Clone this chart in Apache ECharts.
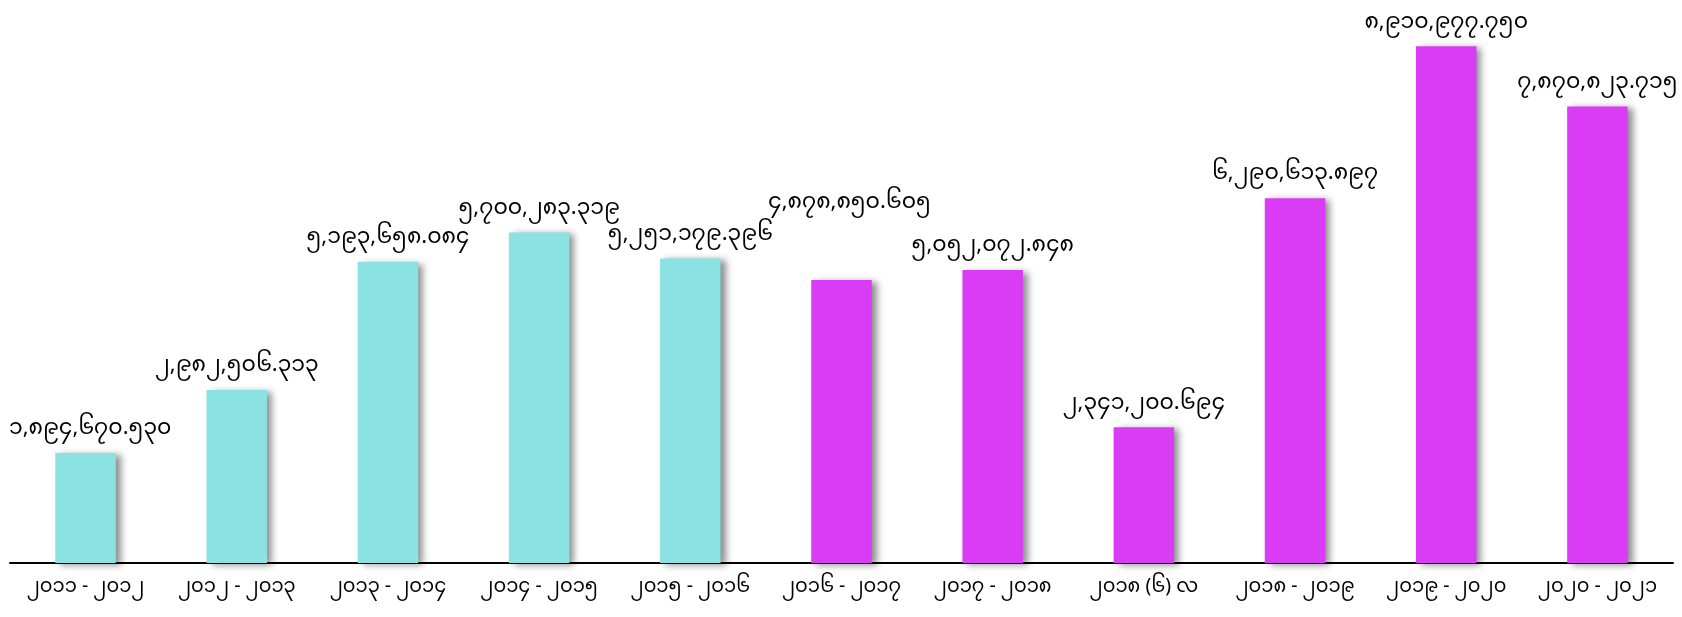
<!DOCTYPE html>
<html>
<head>
<meta charset="utf-8">
<script src="https://cdn.jsdelivr.net/npm/echarts@6/dist/echarts.min.js"></script>
<style>
html,body{margin:0;padding:0;background:#fff;}
#chart{width:1682px;height:617px;}
</style>
</head>
<body>
<div id="chart"></div>
<script>
const categories = ["၂၀၁၁ - ၂၀၁၂","၂၀၁၂ - ၂၀၁၃","၂၀၁၃ - ၂၀၁၄","၂၀၁၄ - ၂၀၁၅","၂၀၁၅ - ၂၀၁၆","၂၀၁၆ - ၂၀၁၇","၂၀၁၇ - ၂၀၁၈","၂၀၁၈ (၆) လ","၂၀၁၈ - ၂၀၁၉","၂၀၁၉ - ၂၀၂၀","၂၀၂၀ - ၂၀၂၁"];
const values = [1894670.530, 2982506.313, 5193658.084, 5700283.319, 5251179.396, 4878850.605, 5052072.848, 2341200.694, 6290613.897, 8910977.750, 7870823.715];
const colorGroups = ["cyan","cyan","cyan","cyan","cyan","magenta","magenta","magenta","magenta","magenta","magenta"];
const palette = {cyan: "#8ae2e3", magenta: "#da3cf5"};

const mmDigits = "၀၁၂၃၄၅၆၇၈၉";
function toMyanmar(v){
  const s = v.toLocaleString("en-US",{minimumFractionDigits:3, maximumFractionDigits:3});
  return s.replace(/[0-9]/g, d => mmDigits[+d]);
}
const FONT = '"Noto Sans Myanmar","Padauk","Myanmar Text","Noto Sans",sans-serif';
const GRID_LEFT = 10;
const LABEL_SIZE = 22;
const OVERLAP_TOLERANCE = 8;

let placed = [];
function avoidOverlap(params){
  const r = params.labelRect;
  if (params.dataIndex === 0) placed = [];
  let dx = Math.max(0, GRID_LEFT - 1 - r.x);
  let dy = 0;
  const prev = placed[placed.length - 1];
  if (prev) {
    const x = r.x + dx;
    const overlap = Math.min(prev.x + prev.width, x + r.width) - Math.max(prev.x, x);
    const overlapY = r.y < prev.y + prev.height && r.y + r.height > prev.y;
    if (overlap > OVERLAP_TOLERANCE && overlapY) {
      dx += 8;
      dy = (prev.y - r.y) - LABEL_SIZE * 1.45;
    }
  }
  placed.push({x: r.x + dx, y: r.y + dy, width: r.width, height: r.height});
  return {dx: dx, dy: dy};
}

const chart = echarts.init(document.getElementById('chart'));
chart.setOption({
  animation:false,
  backgroundColor:'#fff',
  grid:{left:GRID_LEFT,right:9,top:41,bottom:54,containLabel:false},
  xAxis:{
    type:'category',
    data:categories,
    axisLine:{lineStyle:{color:'#000',width:2}},
    axisTick:{show:false},
    axisLabel:{color:'#000',fontSize:19.5,fontFamily:FONT,margin:17,interval:0}
  },
  yAxis:{type:'value',min:0,max:9000000,show:false,splitLine:{show:false}},
  series:[{
    type:'bar',
    barWidth:'40%',
    data:values.map((v,i)=>({value:v,itemStyle:{color:palette[colorGroups[i]]}})),
    itemStyle:{shadowColor:'rgba(0,0,0,0.45)',shadowBlur:7,shadowOffsetX:5,shadowOffsetY:2},
    label:{show:true,position:'top',distance:10,color:'#000',fontSize:LABEL_SIZE,fontFamily:FONT,formatter:p=>toMyanmar(p.value)},
    labelLayout:avoidOverlap
  }]
});
</script>
</body>
</html>
